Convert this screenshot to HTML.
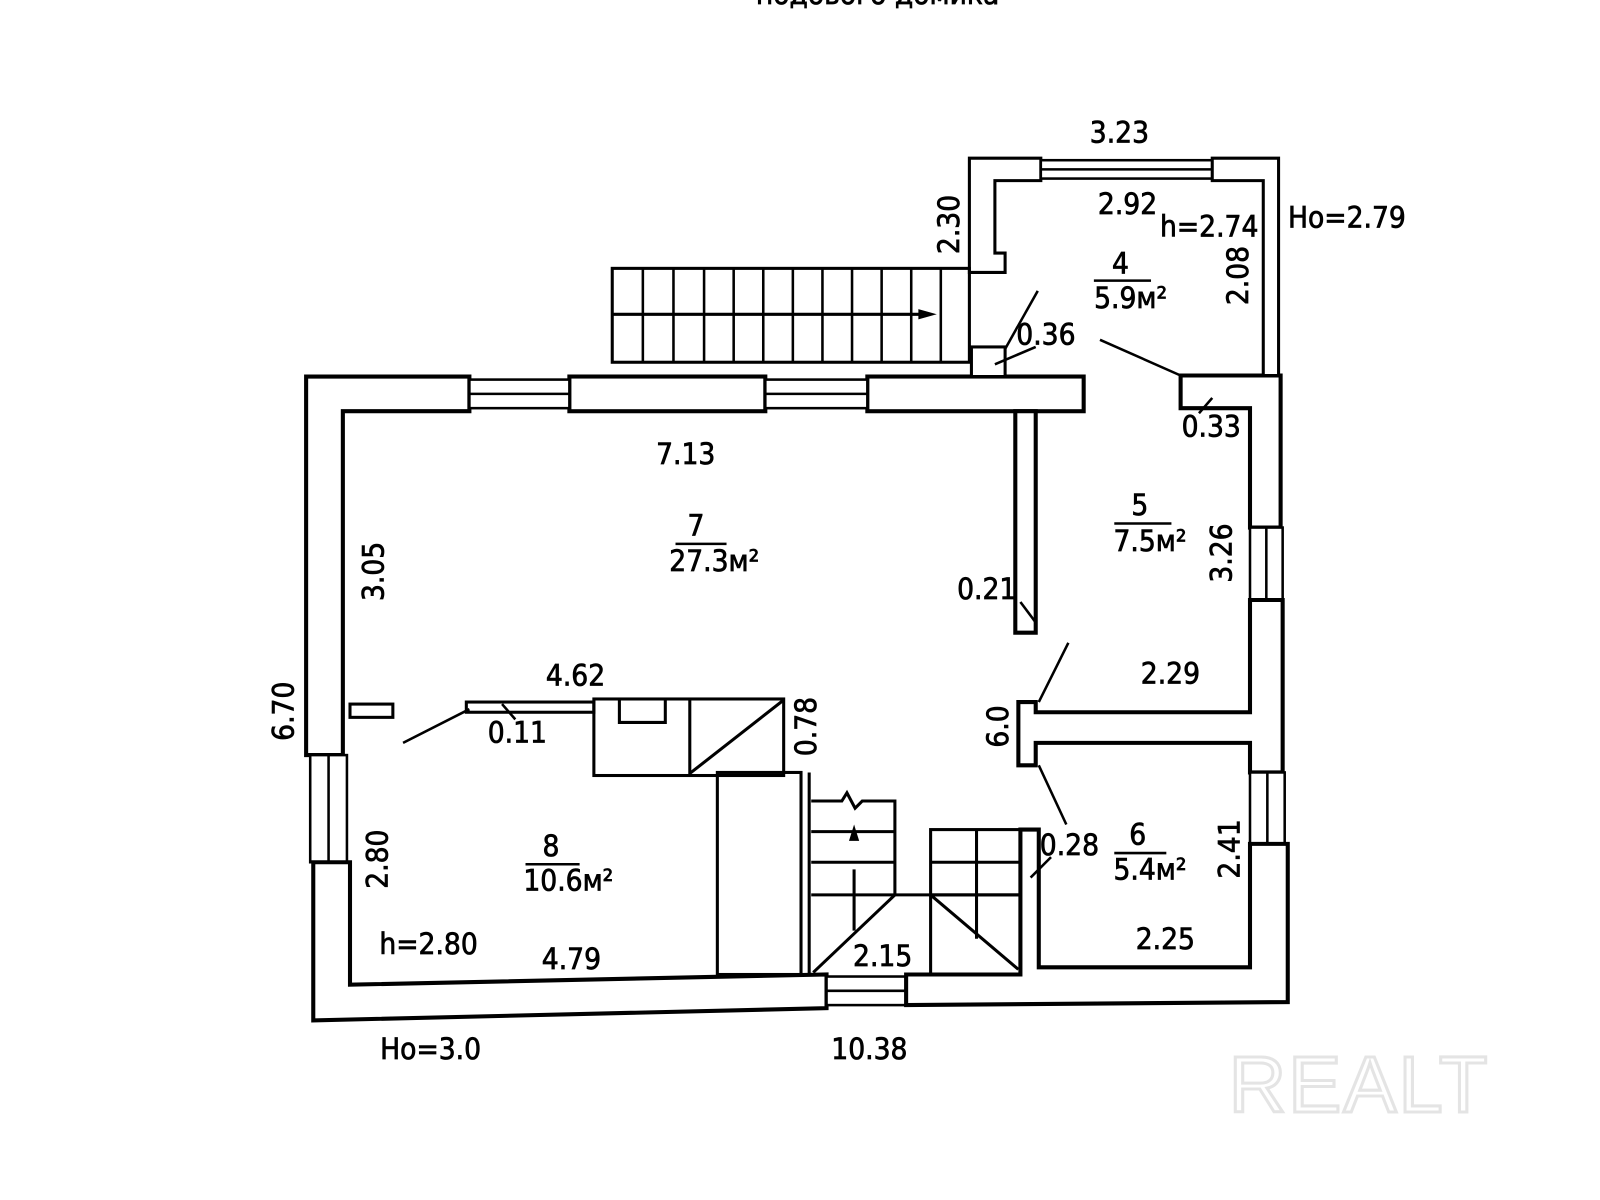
<!DOCTYPE html>
<html><head><meta charset="utf-8"><style>
html,body{margin:0;padding:0;background:#fff;}
svg{display:block;}
text{font-family:"DejaVu Sans Condensed","Liberation Sans Narrow","Liberation Sans",sans-serif;font-size:29px;fill:#000;stroke:#000;stroke-width:0.7;text-anchor:middle;dominant-baseline:central;}
</style></head><body>
<svg width="1600" height="1200" viewBox="0 0 1568 1176" preserveAspectRatio="none" xmlns="http://www.w3.org/2000/svg">
<g fill="#fff" stroke="#000" stroke-width="4" stroke-linejoin="miter">
<polygon points="300,369 460,369 460,403 336,403 336,740 300,740"/>
<rect x="558" y="369" width="192" height="34"/>
<rect x="850" y="369" width="212" height="34"/>
<polygon points="995,403 1015,403 1015,620 995,620"/>
<rect x="460" y="372" width="98" height="28" stroke-width="2.5"/>
<line x1="460" y1="386" x2="558" y2="386" stroke-width="2.5"/>
<rect x="750" y="372" width="100" height="28" stroke-width="2.5"/>
<line x1="750" y1="386" x2="850" y2="386" stroke-width="2.5"/>
<rect x="304" y="740" width="36" height="105" stroke-width="2.5"/>
<line x1="322" y1="740" x2="322" y2="845" stroke-width="2.5"/>
<polygon points="307,845 343,845 343,965 810,955 810,988 307,1000"/>
<rect x="810" y="957" width="78" height="28" stroke-width="2.5"/>
<line x1="810" y1="971" x2="888" y2="971" stroke-width="2.5"/>
<polygon points="1157,368 1255,368 1255,517 1225,517 1225,400 1157,400"/>
<rect x="1225" y="517" width="32" height="71" stroke-width="2.5"/>
<line x1="1241" y1="517" x2="1241" y2="588" stroke-width="2.5"/>
<polygon points="1225,588 1257,588 1257,757 1225,757 1225,728 1015,728 1015,750 998,750 998,688 1015,688 1015,698 1225,698"/>
<rect x="1225" y="757" width="34" height="70" stroke-width="2.5"/>
<line x1="1242" y1="757" x2="1242" y2="827" stroke-width="2.5"/>
<polygon points="1225,827 1262,827 1262,982 888,985 888,955 1000,955 1000,813 1018,813 1018,948 1225,948"/>
<polygon points="950,155 1020,155 1020,177 975,177 975,248 985,248 985,267 950,267" stroke-width="3"/>
<rect x="1020" y="157" width="168" height="18" stroke-width="2.5"/>
<line x1="1020" y1="166" x2="1188" y2="166" stroke-width="2.5"/>
<polygon points="1188,155 1253,155 1253,368 1238,368 1238,177 1188,177" stroke-width="3"/>
<rect x="952" y="340" width="33" height="29" stroke-width="3"/>
</g>
<g fill="none" stroke="#000" stroke-width="3">
<rect x="600" y="263" width="350" height="92"/>
<line x1="600" y1="308" x2="910" y2="308"/>
<g stroke-width="2.5">
<line x1="630" y1="263" x2="630" y2="355"/><line x1="660" y1="263" x2="660" y2="355"/>
<line x1="690" y1="263" x2="690" y2="355"/><line x1="719" y1="263" x2="719" y2="355"/>
<line x1="748" y1="263" x2="748" y2="355"/><line x1="777" y1="263" x2="777" y2="355"/>
<line x1="806" y1="263" x2="806" y2="355"/><line x1="835" y1="263" x2="835" y2="355"/>
<line x1="864" y1="263" x2="864" y2="355"/><line x1="893" y1="263" x2="893" y2="355"/>
<line x1="922" y1="263" x2="922" y2="355"/>
</g>
<rect x="457" y="688" width="125" height="10"/>
<rect x="343" y="690" width="42" height="13"/>
<rect x="582" y="685" width="186" height="75"/>
<line x1="676" y1="685" x2="676" y2="760"/>
<line x1="676" y1="758" x2="768" y2="686"/>
<polyline points="607,685 607,708 652,708 652,685"/>
<rect x="703" y="757" width="82" height="198"/>
<line x1="793" y1="757" x2="793" y2="955"/>
<polyline points="795,785 825,785 830,777 838,792 845,785 877,785 877,877"/>
<line x1="795" y1="815" x2="877" y2="815"/>
<line x1="795" y1="845" x2="877" y2="845"/>
<line x1="795" y1="877" x2="1000" y2="877"/>
<line x1="837" y1="852" x2="837" y2="912"/>
<rect x="912" y="813" width="88" height="64"/>
<line x1="957" y1="813" x2="957" y2="920"/>
<line x1="912" y1="845" x2="1000" y2="845"/>
<line x1="912" y1="877" x2="912" y2="955"/>
<line x1="797" y1="953" x2="877" y2="877"/>
<line x1="912" y1="877" x2="998" y2="950"/>
<g stroke-width="2.5">
<line x1="1017" y1="285" x2="985" y2="342"/>
<line x1="975" y1="357" x2="1015" y2="340"/>
<line x1="1078" y1="333" x2="1157" y2="368"/>
<line x1="1175" y1="405" x2="1188" y2="390"/>
<line x1="1000" y1="590" x2="1015" y2="610"/>
<line x1="1047" y1="630" x2="1018" y2="688"/>
<line x1="1018" y1="750" x2="1045" y2="808"/>
<line x1="1010" y1="860" x2="1030" y2="840"/>
<line x1="395" y1="728" x2="460" y2="695"/>
<line x1="492" y1="690" x2="505" y2="705"/>
<line x1="1072" y1="275" x2="1128" y2="275"/>
<line x1="662" y1="533" x2="712" y2="533"/>
<line x1="1092" y1="513" x2="1148" y2="513"/>
<line x1="515" y1="847" x2="568" y2="847"/>
<line x1="1092" y1="836" x2="1143" y2="836"/>
</g>
</g>
<polygon points="900,303 918,308 900,313" fill="#000"/>
<polygon points="837,808 832,824 842,824" fill="#000"/>
<text x="860" y="-6">подового домика</text>
<text x="1097" y="130">3.23</text>
<text x="1105" y="200">2.92</text>
<text x="1185" y="222">h=2.74</text>
<text x="1320" y="213">Ho=2.79</text>
<text transform="translate(930,220) rotate(-90)">2.30</text>
<text x="1098" y="258">4</text>
<text x="1108" y="292">5.9м²</text>
<text transform="translate(1213,270) rotate(-90)">2.08</text>
<text x="1025" y="328">0.36</text>
<text x="1187" y="418">0.33</text>
<text x="672" y="445">7.13</text>
<text x="682" y="515">7</text>
<text x="700" y="550">27.3м²</text>
<text transform="translate(366,560) rotate(-90)">3.05</text>
<text x="967" y="577">0.21</text>
<text x="1117" y="495">5</text>
<text x="1127" y="530">7.5м²</text>
<text transform="translate(1197,542) rotate(-90)">3.26</text>
<text x="1147" y="660">2.29</text>
<text x="564" y="662">4.62</text>
<text transform="translate(278,697) rotate(-90)">6.70</text>
<text x="507" y="718">0.11</text>
<text transform="translate(790,712) rotate(-90)">0.78</text>
<text transform="translate(978,712) rotate(-90)">6.0</text>
<text x="540" y="829">8</text>
<text x="557" y="863">10.6м²</text>
<text transform="translate(370,842) rotate(-90)">2.80</text>
<text x="1115" y="818">6</text>
<text x="1127" y="852">5.4м²</text>
<text x="1048" y="828">0.28</text>
<text transform="translate(1205,832) rotate(-90)">2.41</text>
<text x="420" y="925">h=2.80</text>
<text x="560" y="940">4.79</text>
<text x="865" y="937">2.15</text>
<text x="1142" y="920">2.25</text>
<text x="422" y="1028">Ho=3.0</text>
<text x="852" y="1028">10.38</text>
<text x="1332" y="1063" style="font-family:'Liberation Sans',sans-serif;font-size:78px;fill:none;stroke:#e4e4e4;stroke-width:3;letter-spacing:2px">REALT</text>
</svg>
</body></html>
